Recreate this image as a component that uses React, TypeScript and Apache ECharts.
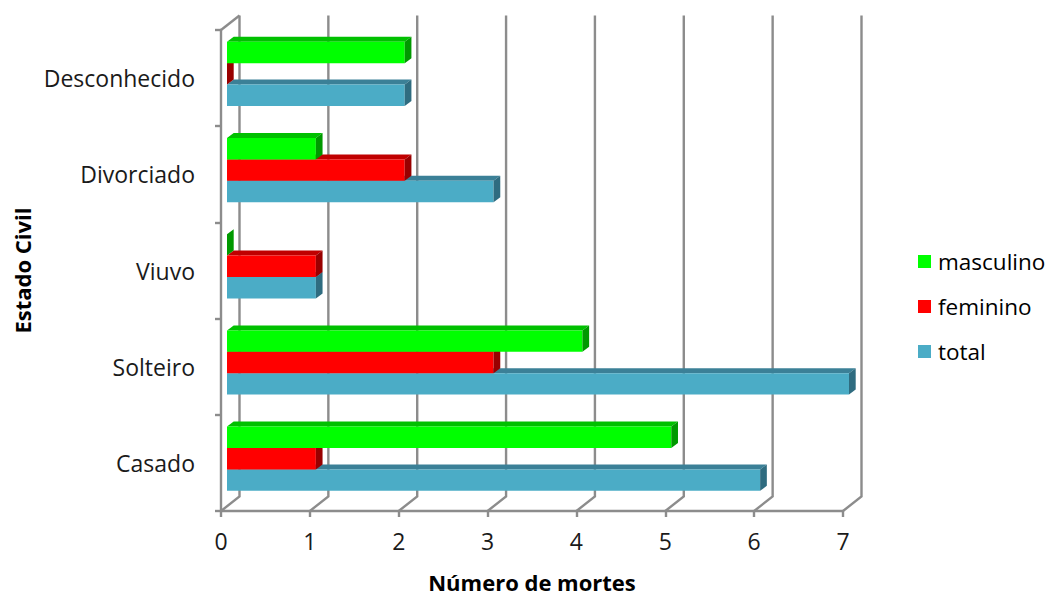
import React, { useEffect, useRef } from "react";
import * as echarts from "echarts";

const categories = ["Casado", "Solteiro", "Viuvo", "Divorciado", "Desconhecido"];
const total = [6, 7, 1, 3, 2];
const feminino = [1, 3, 1, 2, 0];
const masculino = [5, 4, 0, 1, 2];
const xTicks = [0, 1, 2, 3, 4, 5, 6, 7];
const FONT = "'Open Sans', sans-serif";

const SHIFT = 6;
const DX = 6.7, DY = 5;
const BAR = 21.4;
const WALL_X = 18.5, WALL_Y = 14.5;
const GRID_COLOR = "#8c8c8c";

function barSeries(name: string, data: number[], offset: number, front: string, top: string, side: string) {
  return {
    type: "custom",
    name,
    data: data.map((v, i) => [v, i]),
    itemStyle: { color: front },
    clip: false,
    encode: { x: 0, y: 1 },
    renderItem: (_: any, api: any) => {
      const v = api.value(0);
      const p0 = api.coord([0, api.value(1)]);
      const p1 = api.coord([v, api.value(1)]);
      const x0 = p0[0] + SHIFT;
      const x1 = p1[0] + SHIFT;
      const y0 = p0[1] + offset;
      const y1 = y0 + BAR;
      const children: any[] = [];
      if (v > 0) {
        children.push({
          type: "polygon",
          shape: { points: [[x0, y0], [x0 + DX, y0 - DY], [x1 + DX, y0 - DY], [x1, y0]] },
          style: { fill: top },
        });
        children.push({
          type: "rect",
          shape: { x: x0, y: y0, width: x1 - x0, height: BAR },
          style: { fill: front },
        });
      }
      children.push({
        type: "polygon",
        shape: { points: [[x1, y0], [x1 + DX, y0 - DY], [x1 + DX, y1 - DY], [x1, y1]] },
        style: { fill: side },
      });
      return { type: "group", children };
    },
  };
}

export default function App() {
  const ref = useRef<HTMLDivElement>(null);
  useEffect(() => {
    document.body.style.margin = "0";
    const chart = echarts.init(ref.current!, undefined, { renderer: "svg" });
    chart.setOption({
      animation: false,
      backgroundColor: "#ffffff",
      grid: { left: 221, right: 204, top: 30, bottom: 81, containLabel: false, outerBoundsMode: "none" },
      legend: {
        orient: "vertical",
        left: 913,
        top: 245,
        itemWidth: 13,
        itemHeight: 13,
        itemGap: 22,
        icon: "rect",
        data: ["masculino", "feminino", "total"],
        textStyle: { fontFamily: FONT, fontSize: 22.5, color: "#000000", padding: [0, 0, 0, 2] },
      },
      xAxis: {
        type: "value",
        min: 0,
        max: 7,
        interval: 1,
        name: "Número de mortes",
        nameLocation: "middle",
        nameGap: 62,
        nameTextStyle: { fontFamily: FONT, fontSize: 22, fontWeight: "bold", color: "#000000", lineHeight: 18 },
        axisLine: { show: true, lineStyle: { color: GRID_COLOR, width: 2.4 } },
        axisTick: { show: true, length: 6, lineStyle: { color: GRID_COLOR, width: 2.4 } },
        axisLabel: { fontFamily: FONT, fontSize: 23, color: "#1a1a1a", margin: 18 },
        splitLine: { show: false },
      },
      yAxis: {
        type: "category",
        data: categories,
        name: "Estado Civil",
        nameLocation: "middle",
        nameGap: 187,
        nameTextStyle: { fontFamily: FONT, fontSize: 22, fontWeight: "bold", color: "#000000" },
        axisLine: { show: true, lineStyle: { color: GRID_COLOR, width: 2.4 } },
        axisTick: { show: true, length: 6, lineStyle: { color: GRID_COLOR, width: 2.4 } },
        axisLabel: { fontFamily: FONT, fontSize: 23, color: "#1a1a1a", margin: 26 },
      },
      series: [
        {
          type: "custom",
          name: "grade",
          data: xTicks.map((t) => [t]),
          clip: false,
          silent: true,
          encode: { x: 0 },
          renderItem: (params: any, api: any) => {
            const t = api.value(0);
            const cs = params.coordSys;
            const x = api.coord([t, 0])[0];
            const bottom = cs.y + cs.height;
            const top = cs.y;
            const style = { stroke: GRID_COLOR, lineWidth: 2.4, fill: "none" };
            const children: any[] = [
              {
                type: "polyline",
                shape: { points: [[x, bottom], [x + WALL_X, bottom - WALL_Y], [x + WALL_X, top - WALL_Y]] },
                style,
              },
            ];
            if (t === 0) {
              children.push({
                type: "polyline",
                shape: { points: [[x, top], [x + WALL_X, top - WALL_Y]] },
                style,
              });
            }
            return { type: "group", children };
          },
        },
        barSeries("total", total, 6.5, "#4bacc6", "#3b8097", "#2f6c80"),
        barSeries("feminino", feminino, -14.9, "#ff0000", "#c00000", "#990000"),
        barSeries("masculino", masculino, -36.3, "#00ff00", "#00c000", "#009900"),
      ],
    });
    return () => chart.dispose();
  }, []);
  return <div ref={ref} style={{ width: 1047, height: 592 }} />;
}
